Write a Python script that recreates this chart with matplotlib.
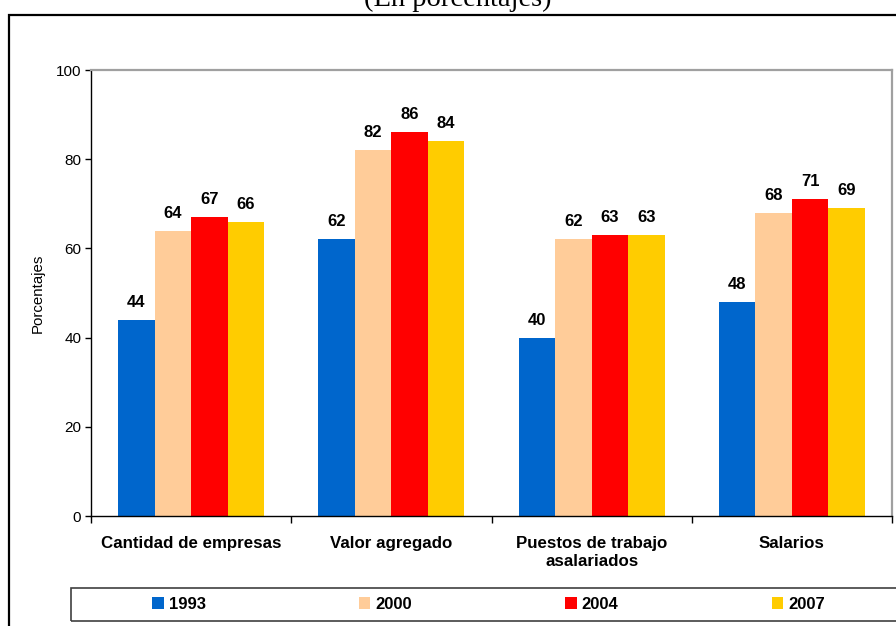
import matplotlib
matplotlib.use("Agg")
import matplotlib.pyplot as plt
from matplotlib.patches import Rectangle, Patch
import numpy as np

categories = ["Cantidad de empresas", "Valor agregado", "Puestos de trabajo\nasalariados", "Salarios"]
series_names = ["1993", "2000", "2004", "2007"]
values_1993 = [44, 62, 40, 48]
values_2000 = [64, 82, 62, 68]
values_2004 = [67, 86, 63, 71]
values_2007 = [66, 84, 63, 69]
series_values = [values_1993, values_2000, values_2004, values_2007]
colors = ["#0066CC", "#FFCC99", "#FF0000", "#FFCC00"]
yticks = [0, 20, 40, 60, 80, 100]

plt.rcParams['font.family'] = ['Liberation Sans', 'DejaVu Sans']

W, H = 896, 626
fig = plt.figure(figsize=(W / 100, H / 100), dpi=100)
ax = fig.add_axes([91 / W, 1 - 516 / H, (892 - 91) / W, (516 - 70) / H])

x = np.arange(len(categories))
bw = 0.1825
for i, (name, vals, c) in enumerate(zip(series_names, series_values, colors)):
    pos = x + (i - 1.5) * bw
    bars = ax.bar(pos, vals, width=bw, color=c, label=name, zorder=2)
    for b, v in zip(bars, vals):
        ax.annotate(f"{v}", (b.get_x() + b.get_width() / 2, v), xytext=(0, 9.4),
                    textcoords="offset points", ha="center", va="baseline",
                    fontsize=12, fontweight="bold")

ax.set_xlim(-0.5, len(categories) - 0.5)
ax.set_ylim(0, 100)
ax.set_yticks(yticks)
ax.set_yticklabels([str(t) for t in yticks], fontsize=11)
ax.tick_params(axis='y', direction='out', length=4, width=1, pad=3, colors='#000000')
ax.set_xticks(x)
ax.set_xticklabels(categories, fontsize=12.2, fontweight='bold')
ax.set_xticks(np.arange(len(categories) + 1) - 0.5, minor=True)
ax.tick_params(axis='x', which='major', length=0, pad=14.5)
ax.tick_params(axis='x', which='minor', direction='out', length=5, width=1, color='#000000')
ax.set_ylabel("Porcentajes", fontsize=10.8, labelpad=8)

for s in ['top', 'right']:
    ax.spines[s].set_color('#A0A0A0')
    ax.spines[s].set_linewidth(1.6)
for s in ['left', 'bottom']:
    ax.spines[s].set_color('#000000')
    ax.spines[s].set_linewidth(1)

# outer frame
fig.patches.append(Rectangle((9 / W, -0.1), 1.2, 1 - 15 / H + 0.1, transform=fig.transFigure,
                             fill=False, edgecolor='black', linewidth=1.6, clip_on=False))

# title (cut off at the top, as in the source)
fig.text(458 / W, 1 - 6 / H, "(En porcentajes)", ha='center', va='baseline',
         fontsize=20.5, family='Liberation Serif')

# legend box
fig.patches.append(Rectangle((71 / W, 1 - 621 / H), 840 / W, 33 / H, transform=fig.transFigure,
                             fill=False, edgecolor='#404040', linewidth=1.2, clip_on=False))
handles = [Patch(facecolor=c, edgecolor='none') for c in colors]
fig.legend(handles, series_names, loc='center', bbox_to_anchor=(488.5 / W, 1 - 604.5 / H),
           ncol=4, frameon=False, handlelength=0.68, handleheight=0.68, handletextpad=0.3,
           columnspacing=9.2, prop={'weight': 'bold', 'size': 12})

fig.savefig("out.png", dpi=100)
